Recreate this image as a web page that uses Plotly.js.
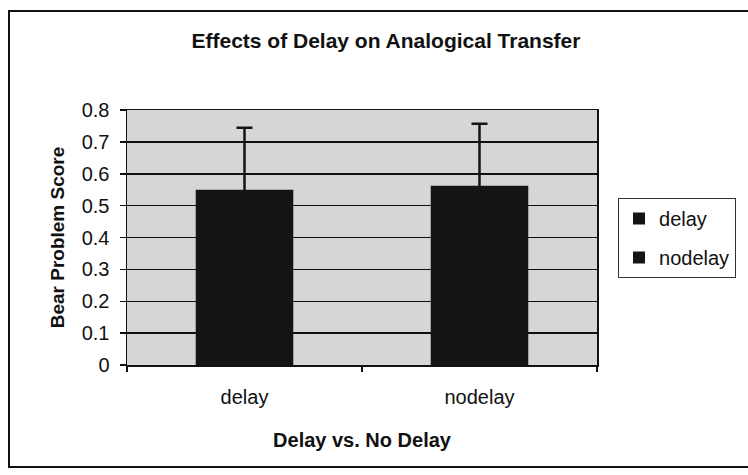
<!DOCTYPE html>
<html>
<head>
<meta charset="utf-8">
<script src="https://cdn.plot.ly/plotly-3.0.1.min.js"></script>
<style>
  html, body { margin: 0; padding: 0; background: #fff; }
  #frame { position: absolute; left: 8px; top: 10px; width: 800px; height: 458px; border: 2px solid #111; box-sizing: border-box; }
  #chart { position: absolute; left: 0; top: 0; width: 748px; height: 475px; }
</style>
</head>
<body>
<div id="frame"></div>
<div id="chart"></div>
<script>
const categories = ['delay', 'nodelay'];
const seriesNames = ['delay', 'nodelay'];
const meanScores = [0.55, 0.562];
const errorPlus = [0.194, 0.195];
const yTickValues = [0, 0.1, 0.2, 0.3, 0.4, 0.5, 0.6, 0.7, 0.8];
const yTickLabels = ['0', '0.1', '0.2', '0.3', '0.4', '0.5', '0.6', '0.7', '0.8'];

const FONT = 'Liberation Sans, Arial, sans-serif';

const traces = categories.map((cat, i) => ({
  type: 'bar',
  x: [cat],
  y: [meanScores[i]],
  name: seriesNames[i],
  legendgroup: 'g' + i,
  width: 0.415,
  marker: { color: '#141414', line: { width: 0 } },
  error_y: { type: 'data', array: [errorPlus[i]], symmetric: true, color: '#141414', thickness: 2.5, width: 8 }
}));

const layout = {
  width: 748,
  height: 475,
  margin: { l: 127, r: 129, t: 110, b: 110 },
  paper_bgcolor: 'rgba(0,0,0,0)',
  plot_bgcolor: '#d6d6d6',
  barmode: 'overlay',
  showlegend: true,
  title: {
    text: '<b>Effects of Delay on Analogical Transfer</b>',
    x: 0.516, xanchor: 'center',
    y: 1 - 41 / 475, yanchor: 'middle', yref: 'container',
    font: { family: FONT, size: 21, color: '#111' }
  },
  xaxis: {
    type: 'category',
    categoryorder: 'array',
    categoryarray: categories,
    showgrid: false,
    showline: true, linecolor: '#111', linewidth: 1.5, mirror: true,
    ticks: 'outside', tickson: 'boundaries', ticklen: 5, tickcolor: '#111', tickwidth: 1.5,
    tickfont: { family: FONT, size: 20, color: '#111' },
    ticklabelstandoff: 13,
    title: { text: '<b>Delay vs. No Delay</b>', font: { family: FONT, size: 20, color: '#111' }, standoff: 26 },
    automargin: false,
    fixedrange: true
  },
  yaxis: {
    range: [0, 0.8],
    tickvals: yTickValues,
    ticktext: yTickLabels,
    showgrid: true, gridcolor: '#111', gridwidth: 1.5,
    zeroline: false,
    showline: true, linecolor: '#111', linewidth: 1.5, mirror: true,
    ticks: 'outside', ticklen: 6, tickcolor: '#111', tickwidth: 1.5,
    tickfont: { family: FONT, size: 20, color: '#111' },
    ticklabelstandoff: 6,
    title: { text: '<b>Bear Problem Score</b>', font: { family: FONT, size: 19, color: '#111' }, standoff: 12 },
    automargin: false,
    fixedrange: true
  },
  legend: {
    x: (641 - 127) / 492, xanchor: 'left',
    y: (365 - 198) / 255, yanchor: 'top',
    bgcolor: '#fff', bordercolor: '#333', borderwidth: 1,
    font: { family: FONT, size: 20, color: '#111' },
    traceorder: 'grouped',
    tracegroupgap: 10,
    itemclick: false, itemdoubleclick: false
  }
};

Plotly.newPlot('chart', traces, layout, { displayModeBar: false, staticPlot: true });
</script>
</body>
</html>
